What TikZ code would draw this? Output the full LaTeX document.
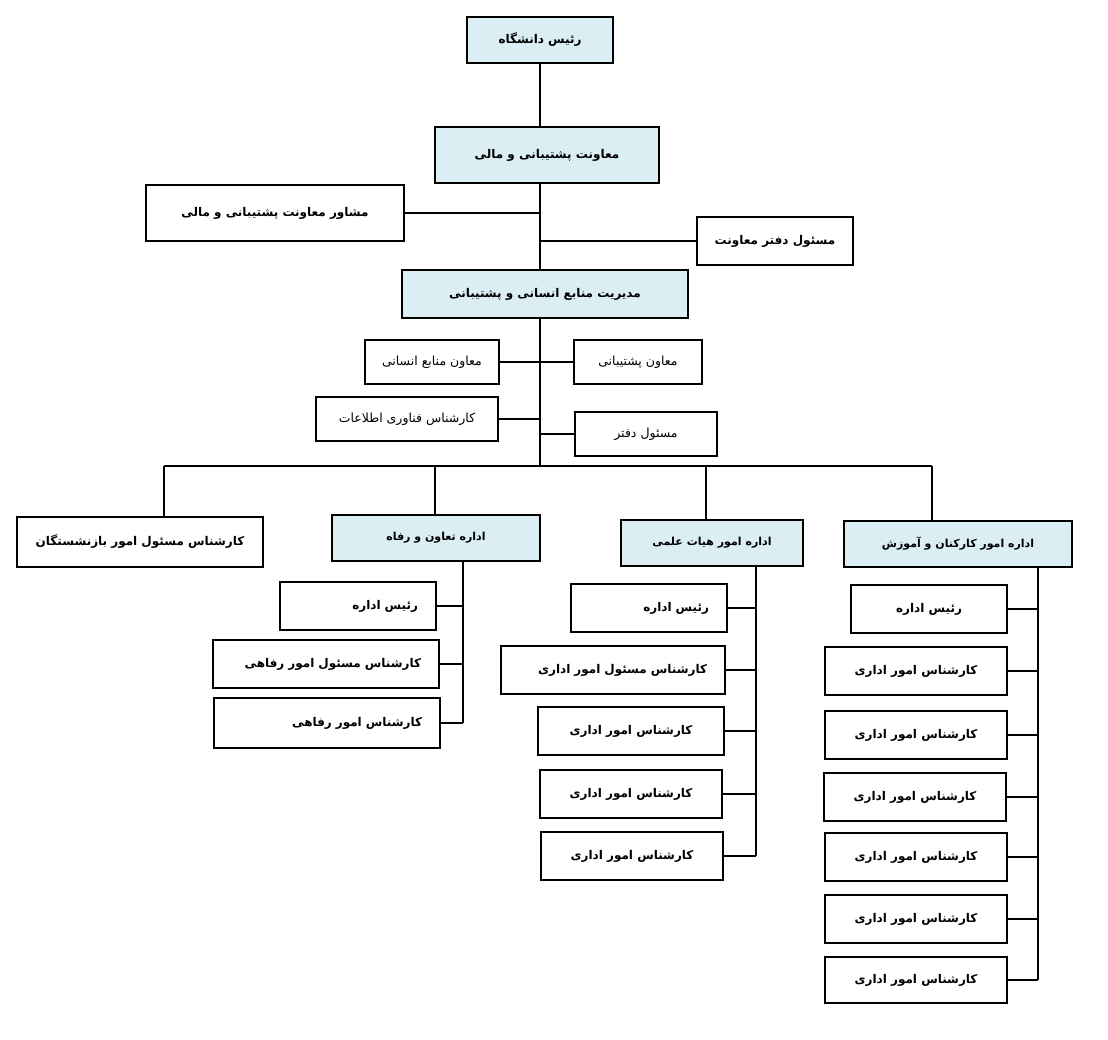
\documentclass[tikz,border=0pt]{standalone}
\usepackage{fontspec}
\newfontfamily\arabicfont[Script=Arabic]{DejaVu Sans}
\TeXXeTstate=1
\usetikzlibrary{positioning}
\definecolor{headblue}{HTML}{DAEEF3}
\newcommand{\fatxt}[1]{\beginR #1\endR}

\begin{document}
\begin{tikzpicture}[
    x=1pt, y=-1pt,
    unit/.style={rectangle, draw, line width=2pt, fill=#1, inner sep=0pt, text centered, font=\arabicfont\bfseries\fontsize{12}{14}\selectfont},
    unit/.default=white,
    head/.style={unit=headblue},
    small/.style={font=\arabicfont\fontsize{12.5}{14}\selectfont},
    tiny/.style={font=\arabicfont\bfseries\fontsize{11}{13}\selectfont},
    rtext/.style={text width=#1, align=right, inner xsep=18pt},
    link/.style={line width=2pt}
]
    \useasboundingbox (0,0) rectangle (1108,1040);

    % top of the chart
    \node [head, minimum width=146, minimum height=46] (ra) at (540,40) {\fatxt{رئیس دانشگاه}};
    \node [head, minimum width=224, minimum height=56] (mv) at (547,155) {\fatxt{معاونت پشتیبانی و مالی}};
    \node [unit, minimum width=258, minimum height=56] (moshaver) at (275,213) {\fatxt{مشاور معاونت پشتیبانی و مالی}};
    \node [unit, minimum width=156, minimum height=48] (daftarm) at (775,241) {\fatxt{مسئول دفتر معاونت}};
    \node [head, minimum width=286, minimum height=48] (mod) at (545,294) {\fatxt{مدیریت منابع انسانی و پشتیبانی}};

    % staff of the management
    \node [unit, small, minimum width=134, minimum height=44] (mna) at (432,362) {\fatxt{معاون منابع انسانی}};
    \node [unit, small, minimum width=128, minimum height=44] (mpo) at (638,362) {\fatxt{معاون پشتیبانی}};
    \node [unit, small, minimum width=182, minimum height=44] (it) at (407,419) {\fatxt{کارشناس فناوری اطلاعات}};
    \node [unit, small, minimum width=142, minimum height=44] (daf) at (646,434) {\fatxt{مسئول دفتر}};

    \coordinate (bus) at (540,466);
    \coordinate (b1) at (164,466);
    \coordinate (b2) at (435,466);
    \coordinate (b3) at (706,466);
    \coordinate (b4) at (932,466);

    % departments
    \node [unit, minimum width=246, minimum height=50] (ret) at (140,542) {\fatxt{کارشناس مسئول امور بازنشستگان}};
    \node [head, tiny, minimum width=208, minimum height=46] (tav) at (436,538) {\fatxt{اداره تعاون و رفاه}};
    \node [head, tiny, minimum width=182, minimum height=46] (hey) at (712,543) {\fatxt{اداره امور هیات علمی}};
    \node [head, tiny, minimum width=228, minimum height=46] (kar) at (958,544) {\fatxt{اداره امور کارکنان و آموزش}};

    % welfare office
    \coordinate (tv) at (463,561);
    \node [unit, rtext=120, minimum height=48] (t1) at (358,606) {\fatxt{رئیس اداره}};
    \node [unit, rtext=190, minimum height=48] (t2) at (326,664) {\fatxt{کارشناس مسئول امور رفاهی}};
    \node [unit, rtext=190, minimum height=50] (t3) at (327,723) {\fatxt{کارشناس امور رفاهی}};

    % faculty affairs office
    \coordinate (hv) at (756,566);
    \node [unit, rtext=120, minimum height=48] (h1) at (649,608) {\fatxt{رئیس اداره}};
    \node [unit, rtext=188, minimum height=48] (h2) at (613,670) {\fatxt{کارشناس مسئول امور اداری}};
    \node [unit, minimum width=186, minimum height=48] (h3) at (631,731) {\fatxt{کارشناس امور اداری}};
    \node [unit, minimum width=182, minimum height=48] (h4) at (631,794) {\fatxt{کارشناس امور اداری}};
    \node [unit, minimum width=182, minimum height=48] (h5) at (632,856) {\fatxt{کارشناس امور اداری}};

    % staff and training office
    \coordinate (kv) at (1038,567);
    \node [unit, minimum width=156, minimum height=48] (k1) at (929,609) {\fatxt{رئیس اداره}};
    \node [unit, minimum width=182, minimum height=48] (k2) at (916,671) {\fatxt{کارشناس امور اداری}};
    \node [unit, minimum width=182, minimum height=48] (k3) at (916,735) {\fatxt{کارشناس امور اداری}};
    \node [unit, minimum width=182, minimum height=48] (k4) at (915,797) {\fatxt{کارشناس امور اداری}};
    \node [unit, minimum width=182, minimum height=48] (k5) at (916,857) {\fatxt{کارشناس امور اداری}};
    \node [unit, minimum width=182, minimum height=48] (k6) at (916,919) {\fatxt{کارشناس امور اداری}};
    \node [unit, minimum width=182, minimum height=46] (k7) at (916,980) {\fatxt{کارشناس امور اداری}};

    % trunk
    \draw [link] (ra.south) -- (ra.south |- mv.north);
    \draw [link] (ra.south |- mv.south) -- (ra.south |- mod.north);
    \draw [link] (ra.south |- mod.south) -- (bus);
    \draw [link] (moshaver.east) -- (moshaver.east -| ra.south);
    \draw [link] (daftarm.west) -- (daftarm.west -| ra.south);
    \draw [link] (mna.east) -- (mna.east -| ra.south);
    \draw [link] (mpo.west) -- (mpo.west -| ra.south);
    \draw [link] (it.east) -- (it.east -| ra.south);
    \draw [link] (daf.west) -- (daf.west -| ra.south);

    % bus and drops
    \draw [link] (b1) -- (b4);
    \draw [link] (b1) -- (b1 |- ret.north);
    \draw [link] (b2) -- (b2 |- tav.north);
    \draw [link] (b3) -- (b3 |- hey.north);
    \draw [link] (b4) -- (b4 |- kar.north);

    % branches
    \draw [link] (tv) -- (tv |- t3.east);
    \draw [link] (t1.east) -- (t1.east -| tv);
    \draw [link] (t2.east) -- (t2.east -| tv);
    \draw [link] (t3.east) -- (t3.east -| tv);

    \draw [link] (hv) -- (hv |- h5.east);
    \draw [link] (h1.east) -- (h1.east -| hv);
    \draw [link] (h2.east) -- (h2.east -| hv);
    \draw [link] (h3.east) -- (h3.east -| hv);
    \draw [link] (h4.east) -- (h4.east -| hv);
    \draw [link] (h5.east) -- (h5.east -| hv);

    \draw [link] (kv) -- (kv |- k7.east);
    \draw [link] (k1.east) -- (k1.east -| kv);
    \draw [link] (k2.east) -- (k2.east -| kv);
    \draw [link] (k3.east) -- (k3.east -| kv);
    \draw [link] (k4.east) -- (k4.east -| kv);
    \draw [link] (k5.east) -- (k5.east -| kv);
    \draw [link] (k6.east) -- (k6.east -| kv);
    \draw [link] (k7.east) -- (k7.east -| kv);
\end{tikzpicture}
\end{document}
